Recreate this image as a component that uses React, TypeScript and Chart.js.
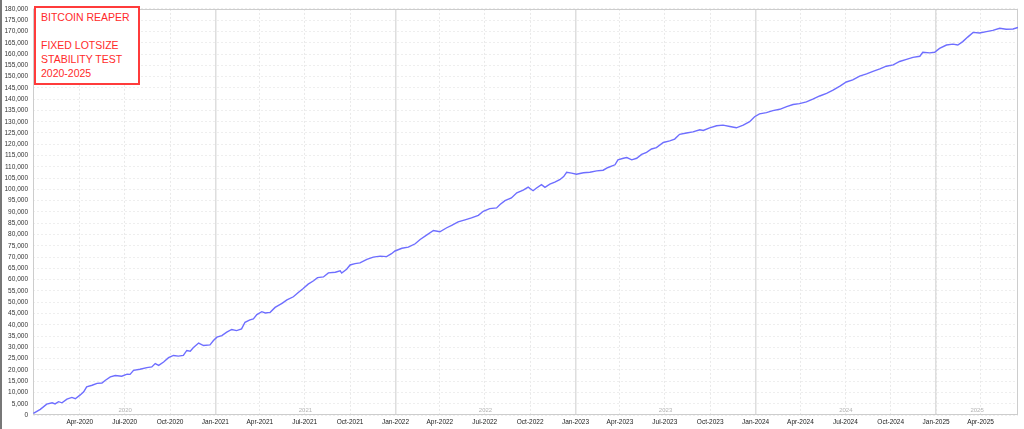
import React, { useEffect, useRef } from "react";
import { Chart, registerables } from "chart.js";

Chart.register(...registerables);

const FONT = '"Liberation Sans", Arial, sans-serif';
const START = Date.UTC(2020, 0, 1);
const DAY = 86400000;

// Day offsets from 2020-01-01 of each sampled equity point
const dayOffsets = [
  -3, 11, 24, 35, 41, 48, 55, 65, 75, 82, 92, 99, 105, 116, 126, 136, 143, 153, 163, 176,
  187, 193, 200, 213, 227, 237, 244, 251, 261, 271, 281, 291, 301, 308, 315, 321, 332, 342, 355, 362,
  369, 379, 389, 399, 409, 419, 426, 436, 443, 450, 460, 467, 477, 487, 501, 511, 524, 534, 544, 554,
  565, 573, 585, 595, 609, 619, 622, 632, 639, 649, 659, 673, 686, 700, 713, 723, 730, 744, 757, 771,
  781, 794, 808, 821, 835, 845, 858, 872, 885, 899, 909, 922, 936, 943, 953, 966, 977, 990, 1000, 1010,
  1017, 1027, 1034, 1044, 1054, 1064, 1072, 1078, 1088, 1098, 1112, 1125, 1139, 1152, 1162, 1176, 1182, 1193, 1200, 1210,
  1220, 1230, 1240, 1250, 1260, 1274, 1287, 1297, 1307, 1321, 1334, 1348, 1355, 1368, 1382, 1395, 1409, 1422, 1436, 1449,
  1459, 1469, 1483, 1496, 1510, 1524, 1537, 1550, 1564, 1577, 1591, 1605, 1618, 1632, 1645, 1658, 1672, 1686, 1699, 1713,
  1726, 1740, 1753, 1767, 1780, 1794, 1800, 1814, 1824, 1834, 1848, 1861, 1871, 1881, 1891, 1902, 1915, 1929, 1942, 1956,
  1969, 1983, 1993,
];

// Account equity at each point
const equity = [
  700, 2500, 4800, 5400, 4900, 5900, 5400, 7000, 7800, 7200, 8900, 10300, 12500, 13200, 14000, 14200, 15400, 16900, 17500, 17200,
  18100, 18000, 19800, 20300, 21000, 21300, 22800, 22000, 23500, 25400, 26400, 26100, 26400, 28600, 28300, 29800, 31900, 30800, 31100, 33000,
  34500, 35200, 36700, 37900, 37400, 38200, 41100, 42200, 42600, 44500, 45800, 45200, 45500, 47700, 49500, 51000, 52400, 54300, 56100, 58000,
  59500, 60900, 61200, 63000, 63300, 63900, 62900, 64600, 66500, 67100, 67400, 69000, 70000, 70400, 70200, 71500, 72700, 73900, 74400, 75900,
  77800, 79700, 81800, 81200, 83000, 84100, 85600, 86500, 87400, 88500, 90300, 91500, 91800, 93300, 95000, 96200, 98500, 99700, 101000, 99400,
  100600, 102100, 100900, 102300, 103200, 104300, 105700, 107600, 107200, 106700, 107400, 107600, 108200, 108500, 109700, 110900, 113100, 113800, 114100, 113100,
  113800, 115500, 116400, 117900, 118500, 120800, 121500, 122300, 124400, 125000, 125500, 126400, 126100, 127300, 128200, 128500, 127900, 127300, 128500, 130000,
  132200, 133500, 134000, 134900, 135500, 136700, 137600, 138000, 138800, 140000, 141400, 142600, 144000, 145800, 147600, 148500, 150200, 151200, 152300, 153400,
  154600, 155200, 156700, 157600, 158500, 159000, 160800, 160500, 160800, 162500, 164000, 164400, 164000, 165500, 167500, 169600, 169300, 169900, 170500, 171400,
  171000, 171100, 171800,
];

const xTickLabels = [
  "Apr-2020", "Jul-2020", "Oct-2020", "Jan-2021", "Apr-2021", "Jul-2021", "Oct-2021",
  "Jan-2022", "Apr-2022", "Jul-2022", "Oct-2022", "Jan-2023", "Apr-2023", "Jul-2023", "Oct-2023",
  "Jan-2024", "Apr-2024", "Jul-2024", "Oct-2024", "Jan-2025", "Apr-2025",
];

const yearLabels = ["2020", "2021", "2022", "2023", "2024", "2025"];

const Y_MIN = 0;
const Y_MAX = 180000;
const Y_STEP = 5000;
const X_MIN = -3.8;
const X_MAX = 1993;

const annotationLines = ["BITCOIN REAPER", "", "FIXED LOTSIZE", "STABILITY TEST", "2020-2025"];

const MONTHS: Record<string, number> = { Jan: 0, Apr: 3, Jul: 6, Oct: 9 };
const dayOfLabel = (label: string) => {
  const [m, y] = label.split("-");
  return Math.round((Date.UTC(Number(y), MONTHS[m], 1) - START) / DAY);
};
const dayOfYear = (y: string) => Math.round((Date.UTC(Number(y), 0, 1) - START) / DAY);

export default function App() {
  const canvasRef = useRef<HTMLCanvasElement | null>(null);

  useEffect(() => {
    document.body.style.margin = "0";
    const canvas = canvasRef.current;
    if (!canvas) return;

    const labelByDay = new Map<number, string>();
    xTickLabels.forEach((l) => labelByDay.set(dayOfLabel(l), l));
    const yearStarts = yearLabels.slice(1).map(dayOfYear);

    const framePlugin = {
      id: "frameAndYears",
      beforeDatasetsDraw(chart: any) {
        const { ctx, chartArea } = chart;
        const xs = chart.scales.x;
        ctx.save();
        ctx.strokeStyle = "#cdcdcd";
        ctx.lineWidth = 1;
        ctx.strokeRect(
          Math.round(chartArea.left) + 0.5,
          Math.round(chartArea.top) + 0.5,
          Math.round(chartArea.right - chartArea.left) - 1,
          Math.round(chartArea.bottom - chartArea.top) - 1
        );
        ctx.fillStyle = "#b4b4b4";
        ctx.font = `6px ${FONT}`;
        ctx.textAlign = "center";
        ctx.textBaseline = "middle";
        yearLabels.forEach((y, i) => {
          const a = Math.max(X_MIN, dayOfYear(y));
          const b = i + 1 < yearLabels.length ? dayOfYear(yearLabels[i + 1]) : X_MAX;
          const px = xs.getPixelForValue((a + b) / 2);
          ctx.fillText(y, px, chartArea.bottom - 5);
        });
        ctx.restore();
      },
    };

    const chart = new Chart(canvas, {
      type: "line",
      data: {
        datasets: [
          {
            data: dayOffsets.map((d, i) => ({ x: d, y: equity[i] })),
            borderColor: "#6e6eff",
            borderWidth: 1.4,
            pointRadius: 0,
            fill: false,
            tension: 0,
            xAxisID: "x",
            yAxisID: "y",
          },
        ],
      },
      options: {
        animation: false,
        responsive: false,
        events: [],
        layout: { padding: { left: 0, right: 6, top: 6.5, bottom: 0 } },
        plugins: {
          legend: { display: false },
          tooltip: { enabled: false },
          title: { display: false },
        },
        scales: {
          x: {
            type: "linear",
            position: "bottom",
            min: X_MIN,
            max: X_MAX,
            afterBuildTicks: (s: any) => {
              s.ticks = xTickLabels.map((l) => ({ value: dayOfLabel(l) }));
            },
            afterFit: (s: any) => {
              s.height = 14;
            },
            ticks: {
              autoSkip: false,
              maxRotation: 0,
              padding: 3.5,
              color: "#222",
              font: { size: 6.5, family: FONT },
              callback: (v: any) => labelByDay.get(Math.round(Number(v))) ?? "",
            },
            grid: { color: "#e9e9e9", lineWidth: 1, drawTicks: false },
            border: { display: false, dash: [2, 2] },
          },
          years: {
            type: "linear",
            position: "bottom",
            min: X_MIN,
            max: X_MAX,
            afterBuildTicks: (s: any) => {
              s.ticks = yearStarts.map((v) => ({ value: v }));
            },
            afterFit: (s: any) => {
              s.height = 0;
            },
            ticks: { display: false },
            grid: { color: "#dedede", lineWidth: 1.5, drawTicks: false },
            border: { display: false },
          },
          y: {
            type: "linear",
            min: Y_MIN,
            max: Y_MAX,
            afterFit: (s: any) => {
              s.width = 33;
            },
            ticks: {
              stepSize: Y_STEP,
              autoSkip: false,
              padding: 5,
              color: "#333",
              font: { size: 6.5, family: FONT },
              callback: (v: any) => Number(v).toLocaleString("en-US"),
            },
            grid: { color: "#eeeeee", lineWidth: 1, drawTicks: false },
            border: { display: false, dash: [2, 2] },
          },
        },
      } as any,
      plugins: [framePlugin],
    });

    return () => chart.destroy();
  }, []);

  return (
    <div
      style={{
        position: "fixed",
        left: 0,
        top: 0,
        width: 1024,
        height: 429,
        background: "#fff",
        overflow: "hidden",
      }}
    >
      <canvas ref={canvasRef} width={1024} height={429} style={{ display: "block", width: 1024, height: 429 }} />
      <div style={{ position: "absolute", left: 0, top: 0, width: 2, height: 429, background: "#777" }} />
      <div
        style={{
          position: "absolute",
          left: 34,
          top: 6,
          width: 106,
          height: 79,
          boxSizing: "border-box",
          border: "2px solid #ff3b3b",
          background: "#fff",
          padding: "2px 0 0 5px",
          color: "#ff2a2a",
          fontFamily: FONT,
          fontSize: 10.5,
          lineHeight: "14px",
          whiteSpace: "pre",
        }}
      >
        {annotationLines.map((l, i) => (
          <div key={i} style={{ height: 14 }}>
            {l || "\u00a0"}
          </div>
        ))}
      </div>
    </div>
  );
}
